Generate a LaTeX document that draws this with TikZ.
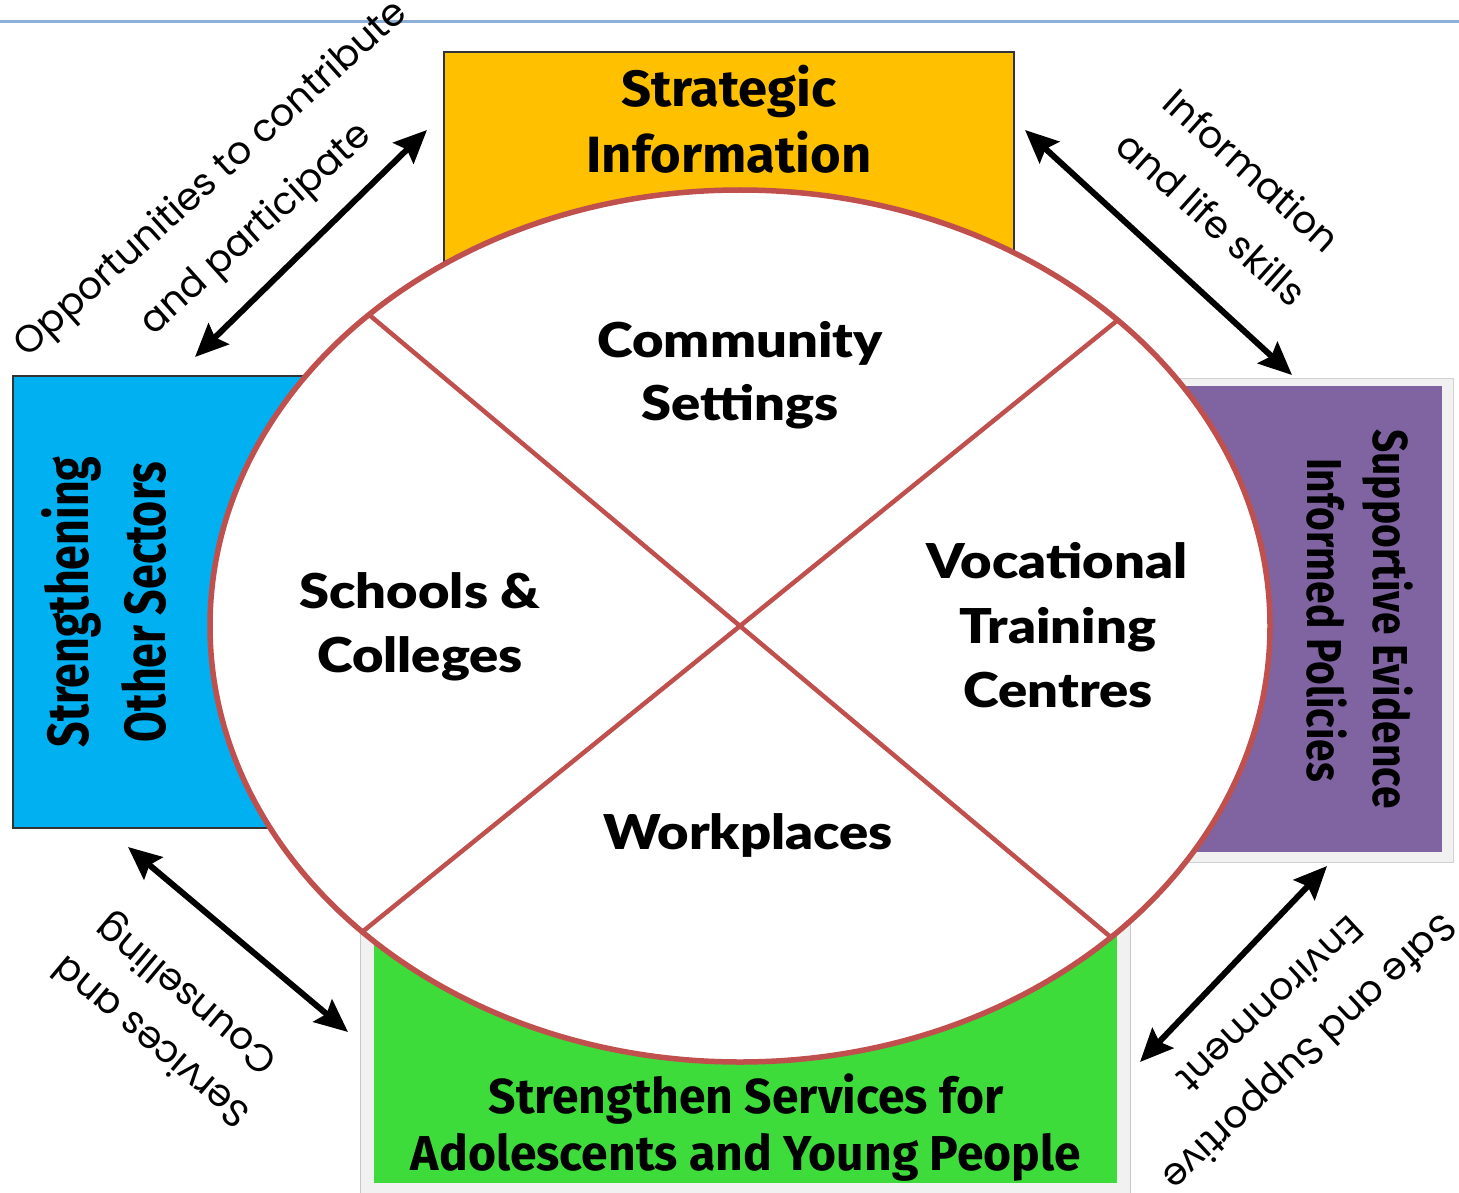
\documentclass[tikz,border=0pt]{standalone}
\usepackage{fontspec}
\usetikzlibrary{shapes.geometric,arrows.meta}
\newfontfamily\labfont{Poppins}
\newfontfamily\boxfont{Fira Sans}[FakeStretch=1.03]
\newfontfamily\greenfont{Fira Sans}[FakeStretch=0.98]
\newfontfamily\boxcond{Fira Sans}[FakeStretch=0.77]
\newfontfamily\boxpurp{Fira Sans}[FakeStretch=0.83]
\newfontfamily\innerfont{Lato Black}[FakeStretch=1.13]
\definecolor{orangeF}{HTML}{FFC000}
\definecolor{blueF}{HTML}{00B0F0}
\definecolor{purpF}{HTML}{8064A2}
\definecolor{greenF}{HTML}{3EDC3A}
\definecolor{ringC}{HTML}{C0504D}
\definecolor{toplineC}{HTML}{8EB0D6}
\definecolor{frameF}{HTML}{F1F1F1}
\tikzset{
  boxshape/.style={draw=black!80, line width=1.5pt, inner sep=0pt, outer sep=0pt, anchor=north west},
  flatbox/.style={inner sep=0pt, outer sep=0pt, anchor=north west},
  sector/.style={font={\innerfont\fontsize{48}{48}\selectfont}, anchor=base, inner sep=0pt},
  orangelab/.style={font={\boxfont\bfseries\fontsize{51}{51}\selectfont}, anchor=base, inner sep=0pt},
  bluelab/.style={font={\boxcond\bfseries\fontsize{58}{58}\selectfont}, anchor=base, inner sep=0pt, rotate=90},
  purplab/.style={font={\boxpurp\bfseries\fontsize{49}{49}\selectfont}, anchor=base, inner sep=0pt, rotate=-90},
  greenlab/.style={font={\greenfont\bfseries\fontsize{49}{49}\selectfont}, anchor=base, inner sep=0pt},
  arrowlab/.style={font={\labfont\fontsize{38}{38}\selectfont}, inner sep=0pt},
  twoway/.style={{Stealth[length=33pt,width=29pt,inset=5pt]}-{Stealth[length=33pt,width=29pt,inset=5pt]}, line width=6pt}
}
\begin{document}
\begin{tikzpicture}[x=1pt,y=-1pt]
\useasboundingbox (0,0) rectangle (1459,1193);
% top rule
\coordinate (ruleL) at (0,22);
\coordinate (ruleR) at (1459,22);
\draw[toplineC, line width=3pt] (ruleL) -- (ruleR);
% frames
\node[flatbox, draw=black!18, line width=1pt, fill=frameF, minimum width=303pt, minimum height=484pt] (pframe) at (1150,378) {};
\node[flatbox, draw=black!22, line width=1pt, fill=frameF, minimum width=770pt, minimum height=280pt] (gframe) at (360,920) {};
% boxes
\node[boxshape, fill=orangeF, minimum width=570pt, minimum height=270pt] (strat) at (444,52) {};
\node[boxshape, fill=blueF, minimum width=400pt, minimum height=452pt] (other) at (13,376) {};
\node[flatbox, fill=purpF, minimum width=292pt, minimum height=466pt] (policy) at (1150,386) {};
\node[flatbox, fill=greenF, minimum width=743pt, minimum height=283pt] (services) at (374,900) {};
% ring
\node[ellipse, draw=ringC, line width=5.5pt, fill=white, minimum width=1060pt, minimum height=872pt, inner sep=0pt, outer sep=0pt] (ring) at (740,626) {};
\draw[ringC, line width=4.5pt] (ring.140.2) -- (ring.320.2);
\draw[ringC, line width=4.5pt] (ring.39.8) -- (ring.219.8);
% sector labels
\node[sector] (comm1) at (740,357) {Community};
\node[sector] (comm2) at (740,420) {Settings};
\node[sector] (sch1) at (420,608) {Schools \&};
\node[sector] (sch2) at (420,672) {Colleges};
\node[sector] (voc1) at (1057,578) {Vocational};
\node[sector] (voc2) at (1058,643) {Training};
\node[sector] (voc3) at (1058,707) {Centres};
\node[sector] (work) at (748,849) {Workplaces};
% box labels
\node[orangelab] (strat1) at (729,107) {Strategic};
\node[orangelab] (strat2) at (729,173) {Information};
\node[bluelab] (oth1) at (88,602) {Strengthening};
\node[bluelab] (oth2) at (165,602) {Other Sectors};
\node[purplab] (pol1) at (1373,619) {Supportive Evidence};
\node[purplab] (pol2) at (1307,620) {Informed Policies};
\node[greenlab] (svc1) at (746,1113) {Strengthen Services for};
\node[greenlab] (svc2) at (746,1170) {Adolescents and Young People};
% arrows
\coordinate (tlA) at (427,130);
\coordinate (tlB) at (195,357);
\coordinate (trA) at (1025,130);
\coordinate (trB) at (1292,375);
\coordinate (blA) at (128,847);
\coordinate (blB) at (348,1032);
\coordinate (brA) at (1327,866);
\coordinate (brB) at (1140,1062);
\draw[twoway] (tlB) -- (tlA);
\draw[twoway] (trA) -- (trB);
\draw[twoway] (blA) -- (blB);
\draw[twoway] (brA) -- (brB);
% arrow labels
\node[arrowlab, rotate=42] (opp1) at (212,180) {Opportunities to contribute};
\node[arrowlab, rotate=42] (opp2) at (257,230) {and participate};
\node[arrowlab, rotate=-42] (inf1) at (1252,170) {Information};
\node[arrowlab, rotate=-42] (inf2) at (1212,218) {and life skills};
\node[arrowlab, rotate=140] (sc1) at (150,1043) {Services and};
\node[arrowlab, rotate=140] (sc2) at (188,993) {Counselling};
\node[arrowlab, rotate=-137] (safe1) at (1307,1050) {Safe and Supportive};
\node[arrowlab, rotate=-137] (safe2) at (1271,1005) {Environment};
\end{tikzpicture}
\end{document}
